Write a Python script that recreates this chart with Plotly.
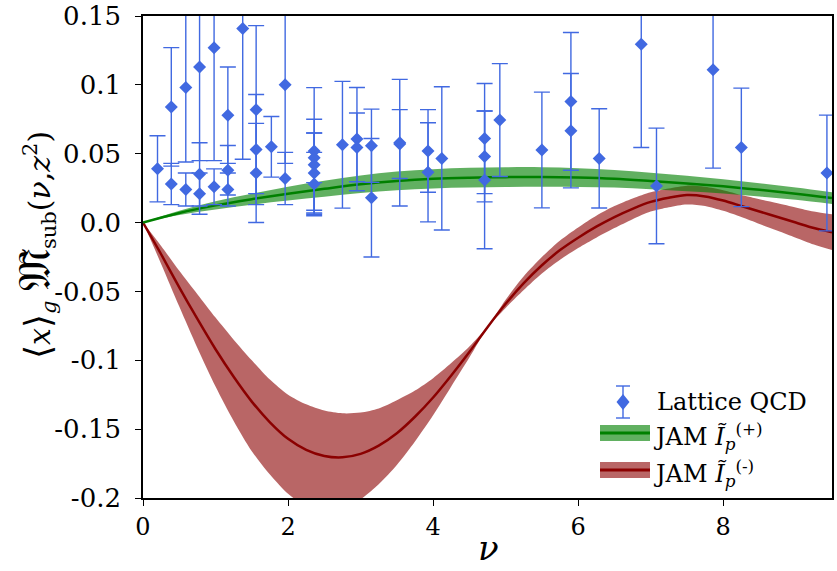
import plotly.graph_objects as go

# ---------------- data ----------------
# Lattice QCD points: nu, value, symmetric error
lat_nu = [0.20, 0.39, 0.39, 0.59, 0.59, 0.78, 0.78, 0.78, 0.98, 0.98,
          1.17, 1.17, 1.17, 1.375, 1.56, 1.56, 1.56, 1.77, 1.96, 1.96,
          2.36, 2.36, 2.36, 2.36, 2.36, 2.75, 2.95, 2.95, 3.15, 3.15,
          3.54, 3.54, 3.93, 3.93, 4.12, 4.71, 4.71, 4.71, 4.92, 5.50,
          5.90, 5.90, 6.29, 6.87, 7.08, 7.86, 8.25, 9.43]
lat_val = [0.039, 0.084, 0.028, 0.098, 0.024, 0.113, 0.035, 0.021, 0.127, 0.026,
           0.078, 0.038, 0.024, 0.141, 0.082, 0.053, 0.036, 0.055, 0.100, 0.032,
           0.052, 0.047, 0.042, 0.036, 0.028, 0.0565, 0.0606, 0.0546, 0.0558, 0.018,
           0.058, 0.057, 0.052, 0.0365, 0.0466, 0.061, 0.048, 0.031, 0.0744, 0.0527,
           0.088, 0.0667, 0.0466, 0.1295, 0.0266, 0.111, 0.0546, 0.036]
lat_err = [0.024, 0.043, 0.015, 0.054, 0.012, 0.068, 0.023, 0.015, 0.082, 0.013,
           0.035, 0.018, 0.012, 0.095, 0.061, 0.040, 0.036, 0.022, 0.057, 0.019,
           0.046, 0.018, 0.033, 0.029, 0.023, 0.046, 0.0375, 0.025, 0.0266, 0.043,
           0.046, 0.025, 0.030, 0.036, 0.052, 0.040, 0.033, 0.050, 0.041, 0.042,
           0.050, 0.0415, 0.036, 0.075, 0.042, 0.0715, 0.043, 0.042]

# JAM I_p^(+) (green): central curve and band half-width
plus_nu = [0, 0.5, 1, 1.5, 2, 2.5, 3, 3.5, 4, 4.5, 5, 5.5, 6, 6.5, 7, 7.5, 8, 8.5, 9, 9.5]
plus_mid = [0, 0.007, 0.0125, 0.017, 0.021, 0.0245, 0.0278, 0.0302, 0.0318, 0.0326,
            0.0330, 0.0331, 0.0327, 0.0318, 0.0302, 0.0284, 0.0263, 0.0238, 0.0210, 0.0178]
plus_err = [0, 0.0015, 0.003, 0.004, 0.005, 0.0058, 0.0064, 0.0068, 0.007, 0.0072,
            0.0072, 0.0071, 0.0068, 0.0064, 0.006, 0.0056, 0.0052, 0.0048, 0.0045, 0.0043]

# JAM I_p^(-) (red): central curve, upper and lower band widths
minus_nu = [0, 0.25, 0.5, 0.75, 1.0, 1.25, 1.5, 1.75, 2.0, 2.25, 2.5, 2.75, 3.0, 3.25,
            3.5, 3.75, 4.0, 4.25, 4.5, 4.75, 5.0, 5.25, 5.5, 5.75, 6.0, 6.25, 6.5, 6.75,
            7.0, 7.25, 7.5, 7.75, 8.0, 8.25, 8.5, 8.75, 9.0, 9.25, 9.5]
minus_mid = [0, -0.023, -0.047, -0.070, -0.092, -0.112, -0.130, -0.145, -0.157, -0.165,
             -0.1695, -0.1705, -0.168, -0.162, -0.153, -0.141, -0.127, -0.111, -0.094,
             -0.076, -0.059, -0.044, -0.031, -0.020, -0.011, -0.003, 0.004, 0.010,
             0.015, 0.018, 0.020, 0.019, 0.016, 0.012, 0.008, 0.004, 0.0, -0.004, -0.007]
minus_up = [0, 0.006, 0.012, 0.018, 0.023, 0.027, 0.030, 0.031, 0.032, 0.033, 0.033,
            0.032, 0.030, 0.027, 0.024, 0.019, 0.014, 0.009, 0.004, 0.0005, 0.003, 0.005,
            0.006, 0.007, 0.0075, 0.008, 0.008, 0.0075, 0.007, 0.0068, 0.0068, 0.007,
            0.0075, 0.008, 0.009, 0.010, 0.011, 0.012, 0.013]
minus_dn = [0, 0.007, 0.014, 0.021, 0.027, 0.032, 0.036, 0.038, 0.040, 0.041, 0.041,
            0.038, 0.033, 0.028, 0.023, 0.018, 0.013, 0.008, 0.004, 0.0005, 0.003, 0.005,
            0.006, 0.007, 0.0075, 0.008, 0.008, 0.0075, 0.007, 0.0068, 0.0068, 0.007,
            0.0075, 0.008, 0.009, 0.010, 0.011, 0.012, 0.013]

y_ticks = [-0.2, -0.15, -0.1, -0.05, 0.0, 0.05, 0.1, 0.15]
y_ticktext = ["-0.2", "-0.15", "-0.1", "-0.05", "0.0", "0.05", "0.1", "0.15"]
x_ticks = [0, 2, 4, 6, 8]

# ---------------- style ----------------
GREEN = "rgb(0,128,0)"
GREEN_BAND = "rgba(0,128,0,0.62)"
RED = "rgb(139,0,0)"
RED_BAND = "rgba(139,0,0,0.6)"
BLUE = "rgb(65,105,225)"
FONT = "DejaVu Serif"

plus_hi = [m + e for m, e in zip(plus_mid, plus_err)]
plus_lo = [m - e for m, e in zip(plus_mid, plus_err)]
minus_hi = [m + e for m, e in zip(minus_mid, minus_up)]
minus_lo = [m - e for m, e in zip(minus_mid, minus_dn)]

fig = go.Figure()

fig.add_trace(go.Scatter(x=minus_nu, y=minus_hi, mode="lines", line=dict(width=0, shape="spline", smoothing=0.8),
                         showlegend=False, hoverinfo="skip"))
fig.add_trace(go.Scatter(x=minus_nu, y=minus_lo, mode="lines", line=dict(width=0, shape="spline", smoothing=0.8),
                         fill="tonexty", fillcolor=RED_BAND, showlegend=False, hoverinfo="skip"))
fig.add_trace(go.Scatter(x=minus_nu, y=minus_mid, mode="lines",
                         line=dict(color=RED, width=2.5, shape="spline", smoothing=0.8), showlegend=False))

fig.add_trace(go.Scatter(x=plus_nu, y=plus_hi, mode="lines", line=dict(width=0, shape="spline"),
                         showlegend=False, hoverinfo="skip"))
fig.add_trace(go.Scatter(x=plus_nu, y=plus_lo, mode="lines", line=dict(width=0, shape="spline"),
                         fill="tonexty", fillcolor=GREEN_BAND, showlegend=False, hoverinfo="skip"))
fig.add_trace(go.Scatter(x=plus_nu, y=plus_mid, mode="lines",
                         line=dict(color=GREEN, width=2.5, shape="spline"), showlegend=False))

fig.add_trace(go.Scatter(x=lat_nu, y=lat_val, mode="markers",
                         marker=dict(symbol="diamond", size=10, color=BLUE),
                         error_y=dict(type="data", array=lat_err, visible=True,
                                      color=BLUE, thickness=1.4, width=8),
                         showlegend=False, cliponaxis=True))

# ---------------- layout geometry ----------------
W, H = 837, 571
L, R, T, B = 143, 832, 16, 498


def px(x):   # pixel -> paper x
    return (x - L) / float(R - L)


def py(y):   # pixel -> paper y
    return (B - y) / float(B - T)


shapes = []
cx, cy = 623, 402
shapes.append(dict(type="line", xref="paper", yref="paper", x0=px(cx), x1=px(cx),
                   y0=py(cy - 16), y1=py(cy + 16), line=dict(color=BLUE, width=1.4)))
for dy in (-16, 16):
    shapes.append(dict(type="line", xref="paper", yref="paper", x0=px(cx - 7), x1=px(cx + 7),
                       y0=py(cy + dy), y1=py(cy + dy), line=dict(color=BLUE, width=1.4)))
shapes.append(dict(type="path", xref="paper", yref="paper",
                   path="M {a},{b} L {c},{d} L {a},{e} L {f},{d} Z".format(
                       a=px(cx), b=py(cy - 8), c=px(cx + 6.5), d=py(cy), e=py(cy + 8), f=px(cx - 6.5)),
                   fillcolor=BLUE, line=dict(width=0)))
for ycen, band, line in ((433, GREEN_BAND, GREEN), (470, RED_BAND, RED)):
    shapes.append(dict(type="rect", xref="paper", yref="paper", x0=px(600), x1=px(650),
                       y0=py(ycen - 8), y1=py(ycen + 8), fillcolor=band, line=dict(width=0)))
    shapes.append(dict(type="line", xref="paper", yref="paper", x0=px(600), x1=px(650),
                       y0=py(ycen), y1=py(ycen), line=dict(color=line, width=3)))

LEG_FONT = dict(family=FONT, size=24, color="black")
ytitle = ("<span style=\"font-size:36px\">⟨</span><i>x</i><span style=\"font-size:36px\">⟩</span>"
          "<sub><i>g</i></sub> <span style=\"font-size:46px\">𝔐̃</span>"
          "<sub>sub</sub>(<i>ν</i>,<i>z</i><sup>2</sup>)")
annotations = [
    dict(text="Lattice QCD", x=px(655), y=py(402), xref="paper", yref="paper",
         xanchor="left", yanchor="middle", showarrow=False, font=LEG_FONT),
    dict(text="JAM <i>Ĩ</i><sub><i>p</i></sub><sup>(+)</sup>", x=px(651), y=py(436), xref="paper", yref="paper",
         xanchor="left", yanchor="middle", showarrow=False, font=LEG_FONT),
    dict(text="JAM <i>Ĩ</i><sub><i>p</i></sub><sup>(-)</sup>", x=px(651), y=py(473), xref="paper", yref="paper",
         xanchor="left", yanchor="middle", showarrow=False, font=LEG_FONT),
    dict(text="<i>ν</i>", x=px(488), y=py(548), xref="paper", yref="paper",
         xanchor="center", yanchor="middle", showarrow=False,
         font=dict(family=FONT, size=34, color="black")),
    dict(text=ytitle, x=px(34), y=py(245), xref="paper", yref="paper", textangle=-90,
         xanchor="center", yanchor="middle", showarrow=False,
         font=dict(family=FONT, size=30, color="black")),
]

fig.update_layout(
    width=W, height=H,
    margin=dict(l=L, r=W - R, t=T, b=H - B, autoexpand=False),
    paper_bgcolor="white", plot_bgcolor="white",
    font=dict(family=FONT, color="black"),
    showlegend=False,
    shapes=shapes,
    annotations=annotations,
    xaxis=dict(range=[0, 9.5], tickvals=x_ticks, ticks="outside", ticklen=6, tickwidth=1.3,
               tickcolor="black", showline=True, linecolor="black", linewidth=1.6, mirror=True,
               showgrid=False, zeroline=False, automargin=False, ticklabelstandoff=0,
               ticklabeloverflow="allow", tickfont=dict(family=FONT, size=24)),
    yaxis=dict(range=[-0.2, 0.15], tickvals=y_ticks, ticktext=y_ticktext, ticks="outside",
               ticklen=6, tickwidth=1.3, tickcolor="black", showline=True, linecolor="black",
               linewidth=1.6, mirror=True, showgrid=False, zeroline=False, automargin=False,
               ticklabelstandoff=9, ticklabeloverflow="allow", tickfont=dict(family=FONT, size=26)),
)

fig.write_html("out.html", config={"displayModeBar": False},
               post_script="document.body.style.margin='0';")
